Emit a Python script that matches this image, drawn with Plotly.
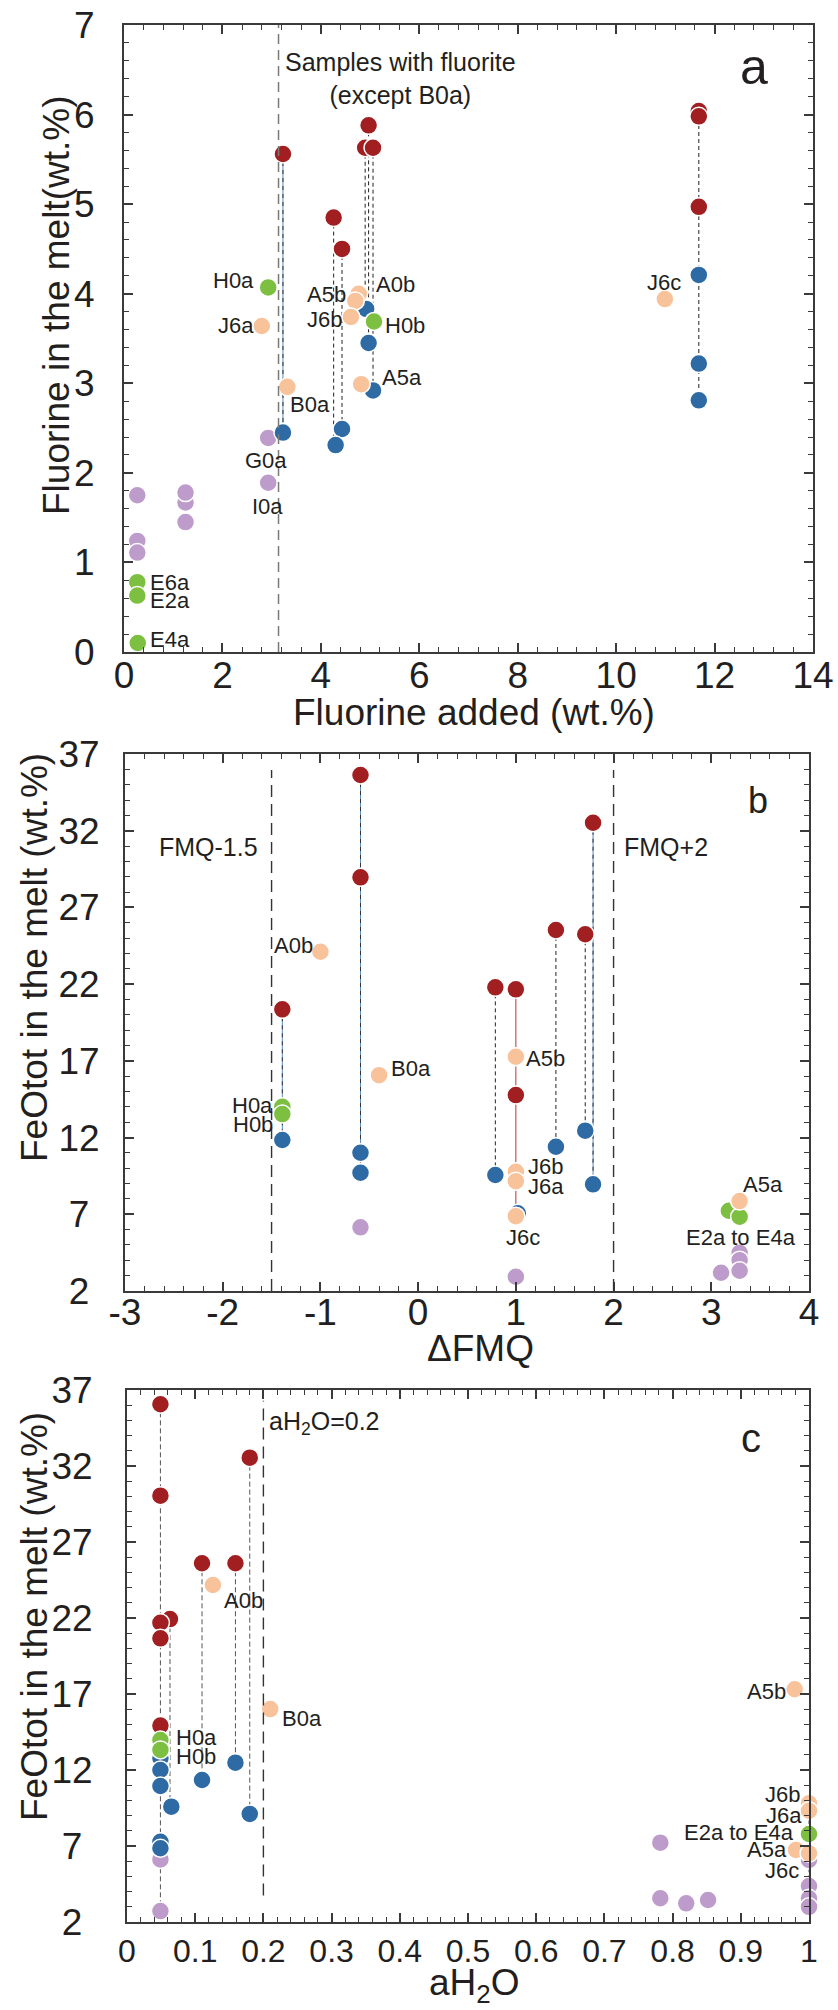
import plotly.graph_objects as go

# ===================== DATA =====================
# ---- Panel a: Fluorine added (wt.%) vs Fluorine in the melt (wt.%)
a_red_x = [3.23, 4.26, 4.43, 4.97, 4.90, 5.06, 11.68, 11.68, 11.68]
a_red_y = [5.56, 4.85, 4.50, 5.88, 5.63, 5.63, 6.04, 5.98, 4.97]
a_blue_x = [11.68, 4.92, 4.97, 11.68, 11.68, 5.06, 3.23, 4.43, 4.30]
a_blue_y = [4.21, 3.83, 3.45, 3.22, 2.81, 2.92, 2.45, 2.49, 2.31]
a_peach_x = [2.80, 4.77, 4.70, 4.61, 10.99, 3.32, 4.82]
a_peach_y = [3.64, 4.00, 3.92, 3.74, 3.94, 2.96, 2.99]
a_green_x = [2.93, 5.08, 0.27, 0.27, 0.28]
a_green_y = [4.07, 3.69, 0.78, 0.63, 0.10]
a_purple_x = [2.93, 2.93, 0.27, 1.25, 1.25, 1.25, 0.27, 0.27]
a_purple_y = [2.39, 1.89, 1.75, 1.67, 1.78, 1.45, 1.24, 1.11]
a_conn_x = [3.23, 4.26, 4.43, 4.90, 4.97, 5.06, 11.68]
a_conn_top = [5.56, 4.85, 4.50, 5.63, 5.88, 5.63, 6.04]
a_conn_bot = [2.45, 2.31, 2.49, 3.83, 3.45, 2.92, 2.81]
a_ref_x = [3.14]
a_xticks = [0, 2, 4, 6, 8, 10, 12, 14]
a_yticks = [0, 1, 2, 3, 4, 5, 6, 7]

# ---- Panel b: dFMQ vs FeOtot in the melt (wt.%)
b_red_x = [-0.59, -0.59, 1.79, 1.41, 1.71, 0.79, 1.00, -1.39, 1.00]
b_red_y = [35.63, 28.96, 32.52, 25.53, 25.25, 21.79, 21.66, 20.36, 14.77]
b_blue_x = [-1.39, 1.71, 1.41, -0.59, -0.59, 0.79, 1.79, 1.02]
b_blue_y = [11.84, 12.45, 11.40, 11.01, 9.71, 9.56, 8.95, 7.06]
b_peach_x = [-1.00, 1.00, -0.40, 1.00, 1.00, 1.00, 3.29]
b_peach_y = [24.11, 17.27, 16.07, 9.77, 9.16, 6.88, 7.86]
b_green_x = [-1.39, -1.39, 3.18, 3.29]
b_green_y = [14.01, 13.53, 7.23, 6.84]
b_purple_x = [-0.59, 1.00, 3.29, 3.29, 3.29, 3.10]
b_purple_y = [6.15, 2.93, 4.49, 4.01, 3.32, 3.19]
b_conn_x = [-1.39, -0.59, 0.79, 1.00, 1.41, 1.71, 1.79]
b_conn_top = [20.36, 35.63, 21.79, 21.66, 25.53, 25.25, 32.52]
b_conn_bot = [11.84, 9.71, 9.56, 7.06, 11.40, 12.45, 8.95]
b_ref_x = [-1.5, 2.0]
b_xticks = [-3, -2, -1, 0, 1, 2, 3, 4]
b_xticktext = ["-3", "-2", "-1", "0", "1", "2", "3", "4"]
feo_yticks = [2, 7, 12, 17, 22, 27, 32, 37]
feo_yticktext = ["2\u00a0", "7\u00a0", "12", "17", "22", "27", "32", "37"]

# ---- Panel c: aH2O vs FeOtot in the melt (wt.%)
c_red_x = [0.049, 0.049, 0.180, 0.110, 0.159, 0.063, 0.049, 0.049, 0.049]
c_red_y = [36.06, 30.05, 32.55, 25.60, 25.60, 21.93, 21.69, 20.66, 14.92]
c_blue_x = [0.049, 0.049, 0.159, 0.110, 0.049, 0.065, 0.180, 0.049, 0.049]
c_blue_y = [12.77, 12.00, 12.48, 11.34, 10.95, 9.59, 9.11, 7.28, 6.85]
c_peach_x = [0.126, 0.979, 0.210, 1.0, 1.0, 0.981, 1.0]
c_peach_y = [24.17, 17.31, 16.01, 9.81, 9.32, 6.74, 6.52]
c_green_x = [0.049, 0.049, 1.0]
c_green_y = [13.97, 13.32, 7.79]
c_purple_x = [0.049, 0.049, 0.782, 0.782, 0.820, 0.852, 1.0, 1.0, 1.0, 1.0]
c_purple_y = [6.12, 2.72, 7.22, 3.56, 3.23, 3.45, 6.08, 4.37, 3.56, 3.00]
c_conn_x = [0.049, 0.063, 0.110, 0.159, 0.180, 1.0]
c_conn_top = [36.06, 21.93, 25.60, 25.60, 32.55, 9.81]
c_conn_bot = [2.72, 9.59, 11.34, 12.48, 9.11, 3.00]
c_ref_x = [0.2]
c_xticks = [0, 0.1, 0.2, 0.3, 0.4, 0.5, 0.6, 0.7, 0.8, 0.9, 1]
c_xticktext = ["0", "0.1", "0.2", "0.3", "0.4", "0.5", "0.6", "0.7", "0.8", "0.9", "1"]

# ---- point labels (text, x, y, anchor) placed beside the points
a_labels = [("H0a", 2.68, 4.15, "right"), ("J6a", 2.68, 3.64, "right"),
            ("A5b", 4.55, 3.99, "right"), ("A0b", 5.08, 4.10, "left"),
            ("J6b", 4.48, 3.71, "right"), ("H0b", 5.27, 3.65, "left"),
            ("J6c", 11.36, 4.12, "right"), ("B0a", 4.23, 2.76, "right"),
            ("A5a", 5.20, 3.07, "left"), ("G0a", 2.89, 2.14, "center"),
            ("I0a", 2.92, 1.63, "center"), ("E6a", 0.48, 0.78, "left"),
            ("E2a", 0.48, 0.58, "left"), ("E4a", 0.48, 0.14, "left")]
b_labels = [("A0b", -1.055, 24.55, "right"), ("A5b", 1.079, 17.18, "left"),
            ("B0a", -0.298, 16.47, "left"), ("H0a", -1.465, 14.12, "right"),
            ("H0b", -1.465, 12.88, "right"), ("J6b", 1.104, 10.14, "left"),
            ("J6a", 1.104, 8.84, "left"), ("J6c", 1.077, 5.51, "center"),
            ("A5a", 3.30, 8.97, "left"), ("E2a to E4a", 3.307, 5.49, "center")]
c_labels = [("A0b", 0.139, 23.14, "left"), ("A5b", 0.969, 17.15, "right"),
            ("B0a", 0.225, 15.42, "left"), ("H0a", 0.0687, 14.11, "left"),
            ("H0b", 0.0687, 12.92, "left"), ("J6b", 0.989, 10.42, "right"),
            ("J6a", 0.993, 9.01, "right"), ("E2a to E4a", 0.981, 7.86, "right"),
            ("A5a", 0.971, 6.74, "right"), ("J6c", 0.988, 5.38, "right")]

# ===================== STYLE =====================
RED = "#a11f20"
BLUE = "#2e6aa3"
PEACH = "#f8c29b"
GREEN = "#7cbf41"
PURPLE = "#bd9bca"
INK = "#231f20"
FONT = "Liberation Sans, Arial, Helvetica, sans-serif"
MSIZE = 18

fig = go.Figure()


def conn_traces(xs, tops, bots, styles, xa, ya):
    for x, t, b, st in zip(xs, tops, bots, styles):
        for color, dash, w in st:
            fig.add_trace(go.Scatter(x=[x, x], y=[t, b], mode="lines",
                                     line=dict(color=color, width=w, dash=dash),
                                     xaxis=xa, yaxis=ya, hoverinfo="skip",
                                     showlegend=False, cliponaxis=False))


def points(xs, ys, color, xa, ya):
    fig.add_trace(go.Scatter(x=xs, y=ys, mode="markers",
                             marker=dict(size=MSIZE, color=color,
                                         line=dict(color="white", width=1.5)),
                             xaxis=xa, yaxis=ya, showlegend=False,
                             cliponaxis=False))


BL = [("#5b8cc0", "solid", 1.0), ("#333333", "4px,4px", 1.0)]
DK = [("#222222", "4px,3px", 1.0)]
RD = [("#b03a3a", "solid", 1.0)]
GR = [("#555555", "5px,3px", 1.0)]

conn_traces(a_conn_x, a_conn_top, a_conn_bot, [BL, DK, DK, DK, DK, DK, DK], "x", "y")
conn_traces(b_conn_x, b_conn_top, b_conn_bot, [BL, BL, DK, RD, DK, DK, BL], "x2", "y2")
conn_traces(c_conn_x, c_conn_top, c_conn_bot, [GR] * 6, "x3", "y3")

for (px, py, col) in [(a_purple_x, a_purple_y, PURPLE), (a_blue_x, a_blue_y, BLUE),
                      (a_red_x, a_red_y, RED), (a_green_x, a_green_y, GREEN),
                      (a_peach_x, a_peach_y, PEACH)]:
    points(px, py, col, "x", "y")
for (px, py, col) in [(b_purple_x, b_purple_y, PURPLE), (b_blue_x, b_blue_y, BLUE),
                      (b_red_x, b_red_y, RED), (b_green_x, b_green_y, GREEN),
                      (b_peach_x, b_peach_y, PEACH)]:
    points(px, py, col, "x2", "y2")
for (px, py, col) in [(c_purple_x, c_purple_y, PURPLE), (c_blue_x, c_blue_y, BLUE),
                      (c_red_x, c_red_y, RED), (c_green_x, c_green_y, GREEN),
                      (c_peach_x, c_peach_y, PEACH)]:
    points(px, py, col, "x3", "y3")

# reference vertical dashed lines
for x in a_ref_x:
    fig.add_shape(type="line", x0=x, x1=x, y0=0, y1=1, xref="x", yref="y domain",
                  line=dict(color="#7a7a7a", width=1.5, dash="10px,6px"))
for x in b_ref_x:
    fig.add_shape(type="line", x0=x, x1=x, y0=0, y1=0.97, xref="x2", yref="y2 domain",
                  line=dict(color="#333333", width=1.4, dash="12px,7px"))
for x in c_ref_x:
    fig.add_shape(type="line", x0=x, x1=x, y0=0.05, y1=0.98, xref="x3", yref="y3 domain",
                  line=dict(color="#333333", width=1.4, dash="12px,7px"))

annots = []


def lab(text, x, y, anchor, xa, ya, size=22, yanchor="middle"):
    annots.append(dict(text=text, x=x, y=y, xref=xa, yref=ya, xanchor=anchor,
                       yanchor=yanchor, showarrow=False,
                       font=dict(size=size, color=INK, family=FONT)))


for t, x, y, an in a_labels:
    lab(t, x, y, an, "x", "y")
for t, x, y, an in b_labels:
    lab(t, x, y, an, "x2", "y2")
for t, x, y, an in c_labels:
    lab(t, x, y, an, "x3", "y3")

# panel annotations
lab("Samples with fluorite<br>(except B0a)", 3.23, 6.40, "left", "x", "y", size=25)
lab("a", 12.80, 6.53, "center", "x", "y", size=50)
lab("FMQ-1.5", -1.618, 30.96, "right", "x2", "y2", size=25)
lab("FMQ+2", 2.087, 30.96, "left", "x2", "y2", size=25)
lab("b", 3.479, 34.0, "center", "x2", "y2", size=36)
lab("aH<sub>2</sub>O=0.2", 0.2056, 34.83, "left", "x3", "y3", size=25)
lab("c", 0.915, 33.84, "center", "x3", "y3", size=40)

W, H = 838, 2010


def ptitle(text, cx, cy, angle=0, size=37, yanchor="middle"):
    annots.append(dict(text=text, x=cx / W, y=1 - cy / H, xref="paper", yref="paper",
                       xanchor="center", yanchor=yanchor, showarrow=False,
                       textangle=angle, font=dict(size=size, color=INK, family=FONT)))


ptitle("Fluorine in the melt(wt.%)", 56, 306, -90)
ptitle("FeOtot in the melt (wt.%)", 34, 958, -90)
ptitle("FeOtot in the melt (wt.%)", 34, 1617, -90)
ptitle("Fluorine added (wt.%)", 474, 712)
ptitle("ΔFMQ", 480, 1348)
ptitle("aH<sub>2</sub>O", 474, 2010, yanchor="bottom")


def axis(dom, rng, tickvals, ticktext, minor, tick0=0, size=37, standoff=12):
    return dict(domain=dom, range=rng, tickmode="array", tickvals=tickvals,
                ticktext=ticktext, showline=True, automargin=False,
                linecolor="#3a3a3a", linewidth=2, mirror="allticks", ticks="inside",
                ticklen=9, tickwidth=1.5, tickcolor="#3a3a3a", showgrid=False,
                zeroline=False, ticklabelstandoff=standoff,
                tickfont=dict(size=size, color=INK, family=FONT),
                minor=dict(ticks="inside", ticklen=5, tickwidth=1.2, tickcolor="#3a3a3a",
                           dtick=minor, tick0=tick0, showgrid=False))


xa = [124 / W, 813 / W]
xb = [125 / W, 809 / W]
xc = [127 / W, 809 / W]
ya = [1 - 652 / H, 1 - 25 / H]
yb = [1 - 1291 / H, 1 - 754 / H]
yc = [1 - 1922 / H, 1 - 1390 / H]

fig.update_layout(
    width=W, height=H, margin=dict(l=0, r=0, t=0, b=0, autoexpand=False),
    paper_bgcolor="white", plot_bgcolor="white", showlegend=False,
    font=dict(family=FONT, color=INK),
    xaxis=dict(axis(xa, [0, 14], a_xticks, [str(v) for v in a_xticks], 0.4,
                    standoff=-10), anchor="y"),
    yaxis=dict(axis(ya, [0, 7], a_yticks, [str(v) for v in a_yticks], 0.2,
                    standoff=20), anchor="x"),
    xaxis2=dict(axis(xb, [-3, 4], b_xticks, b_xticktext, 0.2, tick0=-3,
                     standoff=-12), anchor="y2"),
    yaxis2=dict(axis(yb, [2, 37], feo_yticks, feo_yticktext, 1, tick0=2,
                     standoff=16), anchor="x2"),
    xaxis3=dict(axis(xc, [0, 1], c_xticks, c_xticktext, 0.02, size=32,
                     standoff=0), anchor="y3"),
    yaxis3=dict(axis(yc, [2, 37], feo_yticks, feo_yticktext, 1, tick0=2,
                     standoff=25), anchor="x3"),
    annotations=annots,
)

fig.write_html("out.html")
